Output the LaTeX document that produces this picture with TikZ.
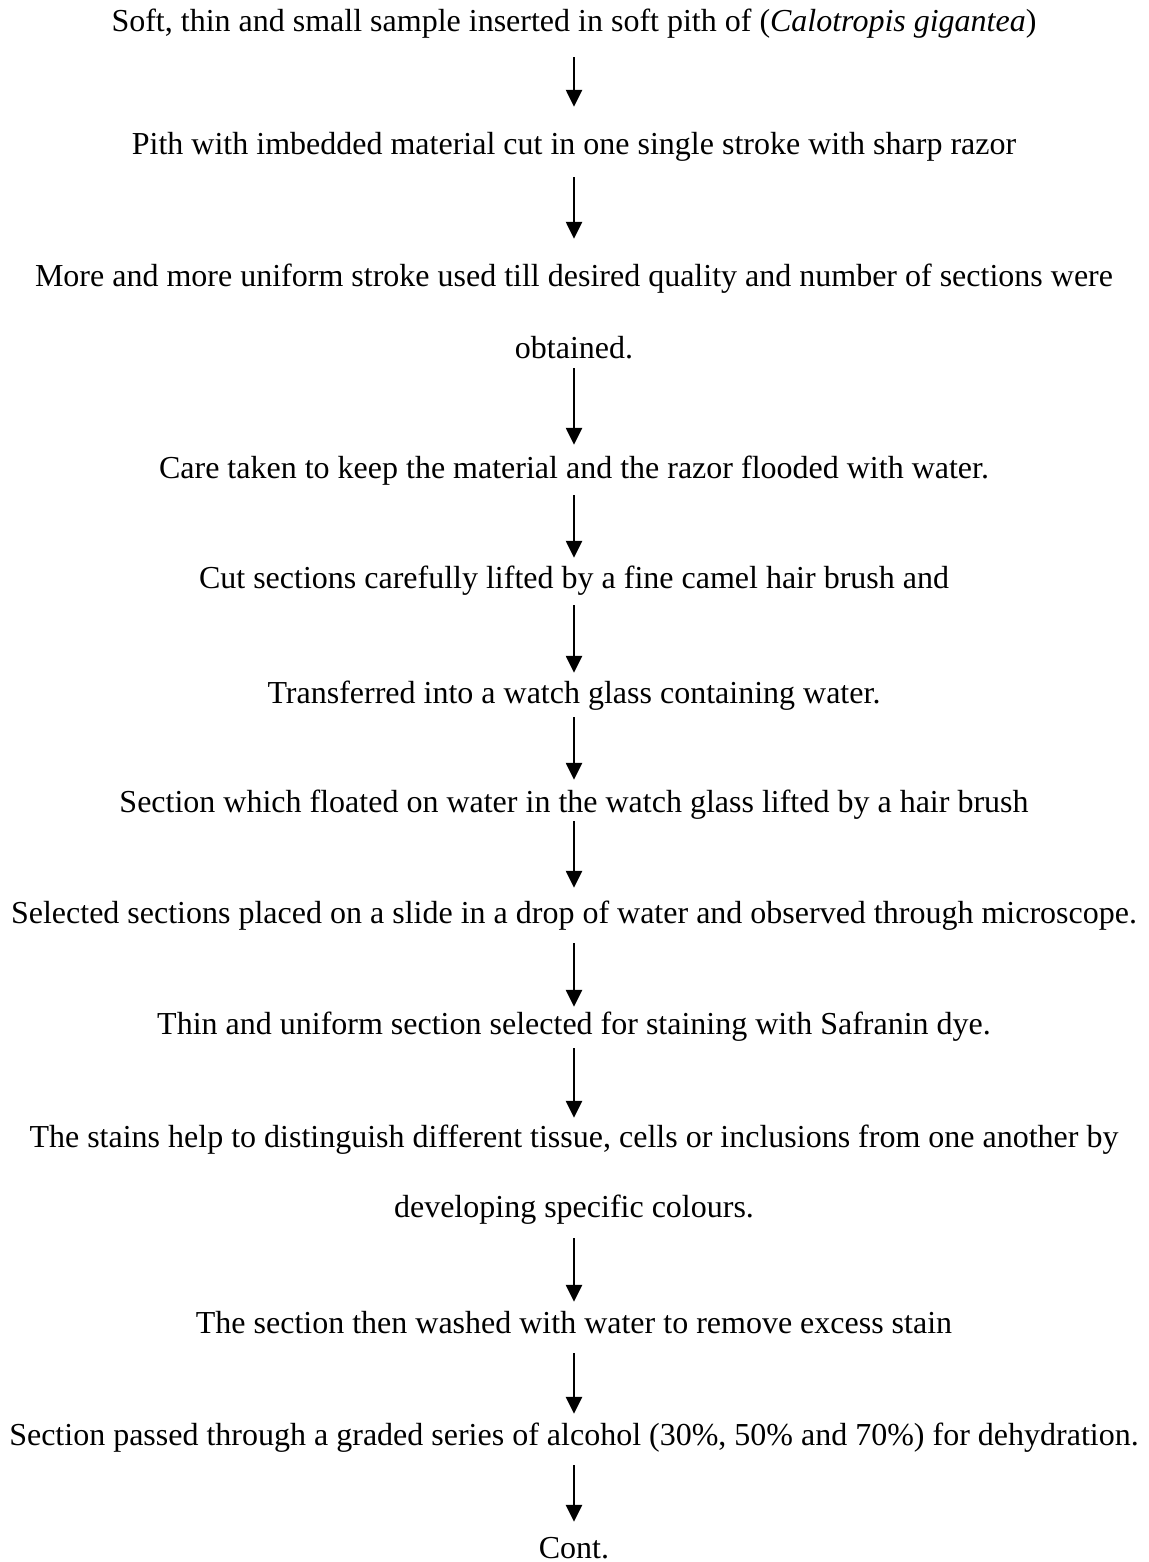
\documentclass[tikz,border=0pt]{standalone}
\usepackage{fontspec}
\setmainfont{Liberation Serif}
\usetikzlibrary{arrows.meta}
\begin{document}
\begin{tikzpicture}[x=1pt,y=-1pt,
  txt/.style={anchor=base,inner sep=0pt,text height=22pt,text depth=7pt,
    font=\fontsize{32}{38}\selectfont},
  arr/.style={line width=2.5pt,-{Triangle[width=16pt,length=17pt]}}]
\useasboundingbox[fill=white] (0,0) rectangle (1148,1562);
\node[txt] (t1) at (574,32) {Soft, thin and small sample inserted in soft pith of (\textit{Calotropis gigantea})};
\node[txt] (t2) at (574,155) {Pith with imbedded material cut in one single stroke with sharp razor};
\node[txt] (t3) at (574,286) {More and more uniform stroke used till desired quality and number of sections were};
\node[txt] (t4) at (574,358) {obtained.};
\node[txt] (t5) at (574,478) {Care taken to keep the material and the razor flooded with water.};
\node[txt] (t6) at (574,588) {Cut sections carefully lifted by a fine camel hair brush and};
\node[txt] (t7) at (574,703) {Transferred into a watch glass containing water.};
\node[txt] (t8) at (574,812) {Section which floated on water in the watch glass lifted by a hair brush};
\node[txt] (t9) at (574,923) {Selected sections placed on a slide in a drop of water and observed through microscope.};
\node[txt] (t10) at (574,1034) {Thin and uniform section selected for staining with Safranin dye.};
\node[txt] (t11) at (574,1147) {The stains help to distinguish different tissue, cells or inclusions from one another by};
\node[txt] (t12) at (574,1217) {developing specific colours.};
\node[txt] (t13) at (574,1333) {The section then washed with water to remove excess stain};
\node[txt] (t14) at (574,1445) {Section passed through a graded series of alcohol (30\%, 50\% and 70\%) for dehydration.};
\node[txt] (t15) at (574,1558) {Cont.};
\draw[arr,shorten <=18pt,shorten >=26pt] (t1.south) -- (t2.north);
\draw[arr,shorten <=15pt,shorten >=25pt] (t2.south) -- (t3.north);
\draw[arr,shorten <=3pt,shorten >=11pt] (t4.south) -- (t5.north);
\draw[arr,shorten <=10pt,shorten >=8pt] (t5.south) -- (t6.north);
\draw[arr,shorten <=10pt,shorten >=8pt] (t6.south) -- (t7.north);
\draw[arr,shorten <=7pt,shorten >=10pt] (t7.south) -- (t8.north);
\draw[arr,shorten <=2pt,shorten >=13pt] (t8.south) -- (t9.north);
\draw[arr,shorten <=13pt,shorten >=5pt] (t9.south) -- (t10.north);
\draw[arr,shorten <=7pt,shorten >=7pt] (t10.south) -- (t11.north);
\draw[arr,shorten <=14pt,shorten >=9pt] (t12.south) -- (t13.north);
\draw[arr,shorten <=13pt,shorten >=9pt] (t13.south) -- (t14.north);
\draw[arr,shorten <=13pt,shorten >=14pt] (t14.south) -- (t15.north);
\end{tikzpicture}
\end{document}
